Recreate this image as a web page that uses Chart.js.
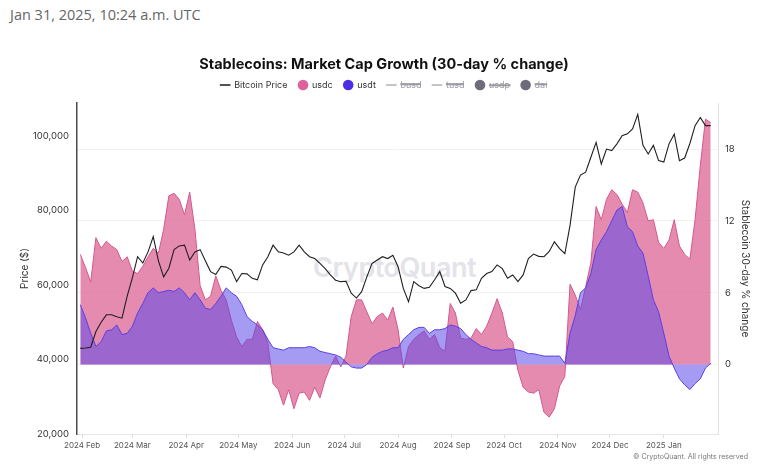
<!DOCTYPE html>
<html><head><meta charset="utf-8">
<script src="https://cdn.jsdelivr.net/npm/chart.js@4.4.1/dist/chart.umd.min.js"></script>
<style>
html,body{margin:0;padding:0;background:#fff;}
#wrap{position:relative;width:768px;height:466px;overflow:hidden;background:#fff;}
#stamp{position:absolute;left:10px;top:5px;font-family:'Open Sans',sans-serif;font-size:14.5px;color:#666;white-space:nowrap;}
#wm{position:absolute;left:313px;top:251px;font-family:'Inter',sans-serif;font-size:27px;font-weight:600;color:#e3e3e9;letter-spacing:-0.5px;white-space:nowrap;}
#copy{position:absolute;right:20px;top:452px;font-family:'Inter',sans-serif;font-size:7px;color:#777;white-space:nowrap;}
canvas{position:absolute;left:0;top:0;}
</style></head><body>
<div id="wrap">
<div id="stamp">Jan 31, 2025, 10:24 a.m. UTC</div>
<div id="wm">CryptoQuant</div>
<canvas id="c" width="768" height="466" style="width:768px;height:466px"></canvas>
<div id="copy">© CryptoQuant. All rights reserved</div>
</div>
<script>
// ---- data (sampled every 3 days from 2024-01-31) ----
const sampleStart = '2024-01-31';
const stepDays = 3;
const btcPrice = [
43000,43100,43300,47500,50000,52000,52000,51500,51100,57000,
62000,67600,65900,68900,73000,66500,62200,64500,69500,70500,
70700,66700,68900,69500,66500,63600,62800,65000,64800,64000,
60900,63100,63000,61800,61400,65400,67600,70700,68900,68600,
68000,68900,70700,68900,67600,67100,65800,64400,62700,61300,
60900,61000,57800,56500,58200,62200,65800,66700,67600,67100,
68000,64900,59100,55500,60900,59800,59100,59400,61400,63600,
59600,59100,57800,55100,56000,58500,58700,61800,63100,63600,
65400,64400,61800,62700,60900,62700,67100,68300,67700,67600,
69000,71600,69800,68400,76000,86300,89500,90300,94300,98300,
92500,96500,96100,97900,100100,100600,101900,105800,97500,95200,
97500,93400,93000,97900,100500,93400,94100,98000,102800,105000,
102800,102800];
const usdc = [
9.2,8.1,6.9,10.6,9.7,10.3,9.9,9.6,8.6,9.0,
7.8,7.6,8.2,9.0,9.7,9.3,11.3,14.1,14.3,13.8,
12.5,14.4,11.3,6.6,5.4,5.7,7.4,6.2,5.4,3.7,
2.3,1.5,2.1,2.1,3.6,2.9,1.8,-1.6,-2.1,-3.4,
-2.1,-3.7,-2.4,-2.3,-3.0,-1.9,-2.8,-1.3,-0.2,0.7,
-0.2,0.7,4.0,5.4,5.4,4.4,3.4,4.0,4.3,3.7,
4.8,2.9,-0.3,1.5,2.1,2.5,2.8,2.1,2.5,1.4,
1.1,5.1,4.3,2.2,2.1,2.2,3.0,2.5,3.2,4.3,
5.5,4.3,2.3,1.9,-0.5,-1.9,-2.3,-2.4,-2.1,-4.0,
-4.4,-3.7,-1.8,-1.0,6.7,5.8,4.6,6.5,8.5,13.2,
12.1,13.8,14.6,14.2,13.4,12.7,14.6,14.4,13.5,12.0,
12.1,10.2,9.7,10.4,12.1,9.9,9.2,8.8,12.1,16.6,
20.5,20.2];
const usdt = [
5.0,3.9,2.6,1.5,1.9,2.8,2.9,3.3,2.5,2.6,
3.2,4.3,5.1,6.0,6.4,6.0,6.1,6.2,6.1,6.4,
6.0,5.4,6.0,5.4,4.7,4.6,5.1,5.7,6.4,6.0,
5.7,5.0,4.0,3.6,3.3,2.9,2.1,1.4,1.3,1.2,
1.4,1.4,1.4,1.4,1.5,1.4,1.1,1.0,0.9,0.8,
0.6,0.2,-0.2,-0.3,-0.3,0.0,0.6,0.9,1.1,1.2,
1.4,1.4,2.1,2.5,2.9,3.1,3.1,2.6,2.9,2.9,
3.0,3.3,3.2,3.0,2.5,2.1,1.8,1.5,1.4,1.2,
1.2,1.2,1.3,1.3,1.2,1.1,0.9,0.9,0.8,0.7,
0.7,0.7,0.7,0.1,2.6,4.1,6.0,6.4,7.6,9.6,
10.4,11.1,12.0,12.9,13.2,11.5,11.1,9.9,9.3,7.4,
5.4,4.4,2.6,0.7,-0.3,-1.2,-1.7,-2.1,-1.6,-1.2,
-0.3,0.1];
const hiddenSeries = ['busd','tusd','usdp','dai'];
const monthTickDates = ['2024-02-01','2024-03-01','2024-04-01','2024-05-01','2024-06-01','2024-07-01',
  '2024-08-01','2024-09-01','2024-10-01','2024-11-01','2024-12-01','2025-01-01'];
const monthLabels = ['2024 Feb','2024 Mar','2024 Apr','2024 May','2024 Jun','2024 Jul',
  '2024 Aug','2024 Sep','2024 Oct','2024 Nov','2024 Dec','2025 Jan'];
const priceTicks = [20000,40000,60000,80000,100000];
const pctTicks = [0,6,12,18];

// ---- helpers ----
const DAY = 86400000;
const origin = Date.parse(monthTickDates[0] + 'T00:00:00Z');
const dayOf = s => (Date.parse(s + 'T00:00:00Z') - origin) / DAY;
const startDay = dayOf(sampleStart);
const pts = arr => arr.map((v, i) => ({x: startDay + i * stepDays, y: v}));
const monthTickDays = monthTickDates.map(dayOf);

const FONT = 'Inter';
const legendLook = [
  {style:'line', color:'#1a1a1a', w:1.5},
  {style:'circle', color:'#e0609a', w:0},
  {style:'circle', color:'#4b2fe6', w:0},
  {style:'line', color:'#8c8c8c', w:1.2},
  {style:'line', color:'#8c8c8c', w:1.2},
  {style:'circle', color:'#6c6c7a', w:0},
  {style:'circle', color:'#6c6c7a', w:0}
];

const datasets = [
  {label:'Bitcoin Price', data: pts(btcPrice), yAxisID:'yPrice', borderColor:'#1f1f1f', borderWidth:1.1,
   pointRadius:0, fill:false, order:0, tension:0},
  {label:'usdc', data: pts(usdc), yAxisID:'yPct', borderColor:'#d4578d', backgroundColor:'rgba(222,100,150,0.75)',
   borderWidth:1, pointRadius:0, fill:'origin', order:2, tension:0},
  {label:'usdt', data: pts(usdt), yAxisID:'yPct', borderColor:'#5a3fe0', backgroundColor:'rgba(93,73,231,0.55)',
   borderWidth:1, pointRadius:0, fill:'origin', order:1, tension:0}
];
hiddenSeries.forEach((name, i) => datasets.push({label:name, data:[], yAxisID:'yPct', hidden:true,
  borderColor:'#8c8c8c', backgroundColor:'#6c6c7a', pointRadius:0, order:3 + i}));

new Chart(document.getElementById('c'), {
  type: 'line',
  data: {datasets},
  options: {
    responsive: false,
    animation: false,
    events: [],
    layout: {padding: {top: 56, left: 0, right: 0, bottom: 0}},
    plugins: {
      tooltip: {enabled: false},
      title: {display: true, text: 'Stablecoins: Market Cap Growth (30-day % change)',
        font: {family: FONT, size: 14.5, weight: 'bold'}, color: '#111', padding: {top: 0, bottom: -3.9}},
      subtitle: {display: true, text: '', weight: 500, font: {size: 1}, padding: {top: 0, bottom: 2.3}},
      legend: {
        position: 'top', align: 'center',
        labels: {
          usePointStyle: true, boxHeight: 7.5, padding: 11,
          font: {family: FONT, size: 9}, color: '#333',
          generateLabels(chart) {
            return chart.data.datasets.map((ds, i) => {
              const hid = !chart.isDatasetVisible(i);
              const lk = legendLook[i];
              return {text: ds.label, datasetIndex: i, hidden: hid, pointStyle: lk.style,
                fillStyle: lk.color, strokeStyle: lk.color, lineWidth: lk.w,
                fontColor: hid ? '#9a9aa2' : '#333'};
            });
          }
        }
      }
    },
    scales: {
      x: {
        type: 'linear', min: -2.9, max: 366.2, position: 'bottom',
        afterBuildTicks: s => { s.ticks = monthTickDays.map(v => ({value: v})); },
        afterFit: s => { s.height = 32; },
        ticks: {autoSkip: false, maxRotation: 0, padding: 3, color: '#555',
          font: {family: FONT, size: 8},
          callback: v => monthLabels[monthTickDays.indexOf(v)]},
        grid: {drawOnChartArea: false, tickLength: 4, color: '#dcdcdc'},
        border: {color: '#e6e6e6'}
      },
      yPrice: {
        type: 'linear', position: 'left', min: 20000, max: 108870,
        afterBuildTicks: s => { s.ticks = priceTicks.map(v => ({value: v})); },
        afterFit: s => { s.width = 77; },
        ticks: {padding: 8, color: '#333', font: {family: FONT, size: 9.5},
          callback: v => v.toLocaleString('en-US')},
        grid: {drawOnChartArea: false, drawTicks: false},
        border: {color: '#4a4a4a', width: 1.5},
        title: {display: true, text: 'Price ($)', color: '#333', font: {family: FONT, size: 10},
          padding: {top: 19, bottom: 0}}
      },
      yPct: {
        type: 'linear', position: 'right', min: -5.81, max: 21.85,
        afterBuildTicks: s => { s.ticks = pctTicks.map(v => ({value: v})); },
        afterFit: s => { s.width = 50; },
        ticks: {padding: 7, color: '#333', font: {family: FONT, size: 9.5}},
        grid: {color: '#f1f1f1', drawTicks: false},
        border: {color: '#e3e3e3'},
        title: {display: true, text: 'Stablecoin 30-day % change', color: '#333',
          font: {family: FONT, size: 10}, padding: {top: 17, bottom: 0}}
      }
    }
  }
});
</script>
</body></html>
